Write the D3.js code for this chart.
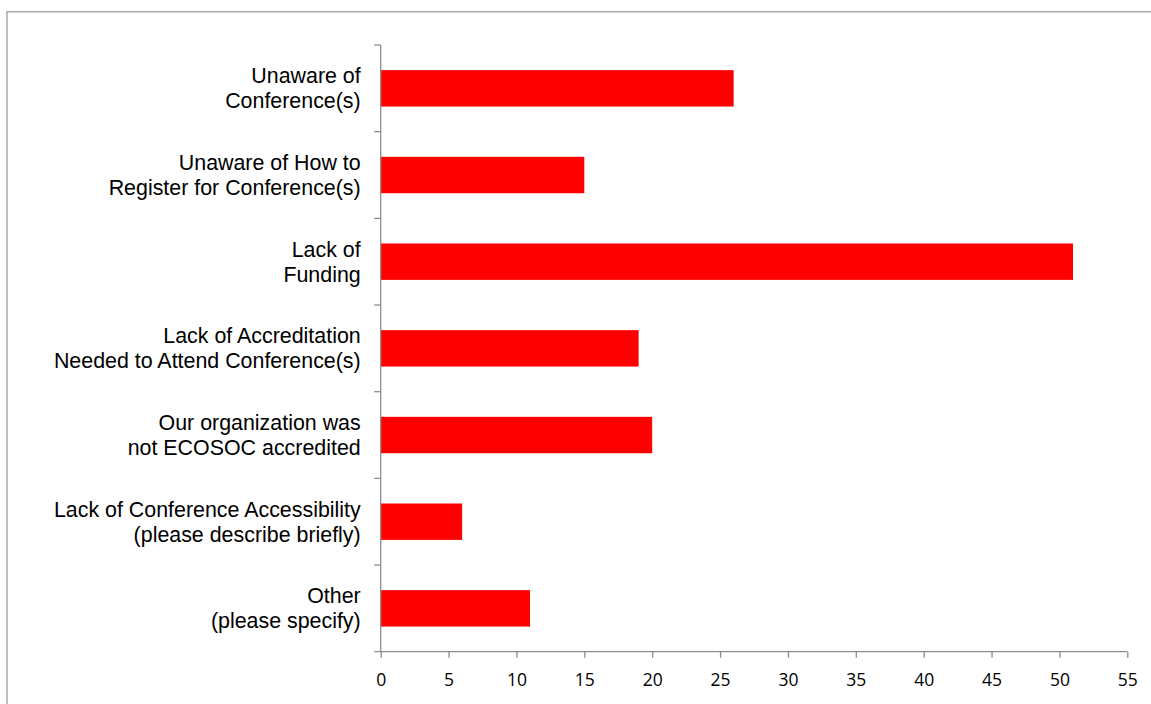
<!DOCTYPE html>
<html>
<head>
<meta charset="utf-8">
<script src="https://cdn.jsdelivr.net/npm/d3@7"></script>
<style>
  html, body { margin: 0; padding: 0; background: #fff; }
  svg { display: block; }
</style>
</head>
<body>
<svg id="chart" width="1151" height="704"></svg>
<script>
const categories = [
  ["Unaware of", "Conference(s)"],
  ["Unaware of How to", "Register for Conference(s)"],
  ["Lack of", "Funding"],
  ["Lack of Accreditation", "Needed to Attend Conference(s)"],
  ["Our organization was", "not ECOSOC accredited"],
  ["Lack of Conference Accessibility", "(please describe briefly)"],
  ["Other", "(please specify)"]
];
const values = [26, 15, 51, 19, 20, 6, 11];
const xTicks = [0, 5, 10, 15, 20, 25, 30, 35, 40, 45, 50, 55];

(function () {
const svg = d3.select("#chart");
const W = 1151, H = 704;
const pLeft = 380.7, pRight = 1127.3, pTop = 45, pBottom = 651.7;

// chart frame (top and left edges visible)
svg.append("path")
  .attr("d", `M7,${H} L7,11.75 L${W},11.75`)
  .attr("fill", "none").attr("stroke", "#ababab").attr("stroke-width", 1.5);

const x = d3.scaleLinear().domain([0, 55]).range([pLeft, pRight]);
const keys = categories.map((c, i) => i);
const y = d3.scaleBand().domain(keys).range([pTop, pBottom]).paddingInner(0.58).paddingOuter(0.29);
const step = (pBottom - pTop) / categories.length;

// bars
svg.append("g").selectAll("rect").data(values).join("rect")
  .attr("x", x(0))
  .attr("y", (d, i) => y(i))
  .attr("width", d => x(d) - x(0))
  .attr("height", y.bandwidth())
  .attr("fill", "#ff0000");

const axisColor = "#8c8c8c";

// x axis
const xAxis = svg.append("g").attr("transform", `translate(0,${pBottom})`)
  .call(d3.axisBottom(x).tickValues(xTicks).tickSize(6).tickSizeOuter(0));
xAxis.select(".domain").remove();
xAxis.selectAll(".tick line").attr("stroke", axisColor).attr("stroke-width", 1.3);
xAxis.selectAll(".tick text")
  .attr("y", 34).attr("dy", 0)
  .attr("fill", "#000")
  .style("font-family", "'Open Sans', sans-serif")
  .style("font-size", "17.5px");
svg.append("line")
  .attr("x1", pLeft - 6.5).attr("x2", pRight)
  .attr("y1", pBottom).attr("y2", pBottom)
  .attr("stroke", axisColor).attr("stroke-width", 1.3);

// y axis line and boundary ticks
svg.append("line")
  .attr("x1", pLeft).attr("x2", pLeft)
  .attr("y1", pTop).attr("y2", pBottom)
  .attr("stroke", axisColor).attr("stroke-width", 1.3);
const boundaries = d3.range(categories.length).map(i => pTop + i * step);
svg.append("g").selectAll("line").data(boundaries).join("line")
  .attr("x1", pLeft - 6.5).attr("x2", pLeft)
  .attr("y1", d => d).attr("y2", d => d)
  .attr("stroke", axisColor).attr("stroke-width", 1.3);

// category labels
const labels = svg.append("g").selectAll("text").data(categories).join("text")
  .attr("text-anchor", "end")
  .style("font-family", "'Liberation Sans', Arial, sans-serif")
  .style("font-size", "21.4px")
  .attr("fill", "#000");
labels.each(function(d, i) {
  const c = y(i) + y.bandwidth() / 2;
  const t = d3.select(this);
  t.append("tspan").attr("x", pLeft - 20).attr("y", c - 5).text(d[0]);
  t.append("tspan").attr("x", pLeft - 20).attr("y", c + 20).text(d[1]);
});
})();
</script>
</body>
</html>
